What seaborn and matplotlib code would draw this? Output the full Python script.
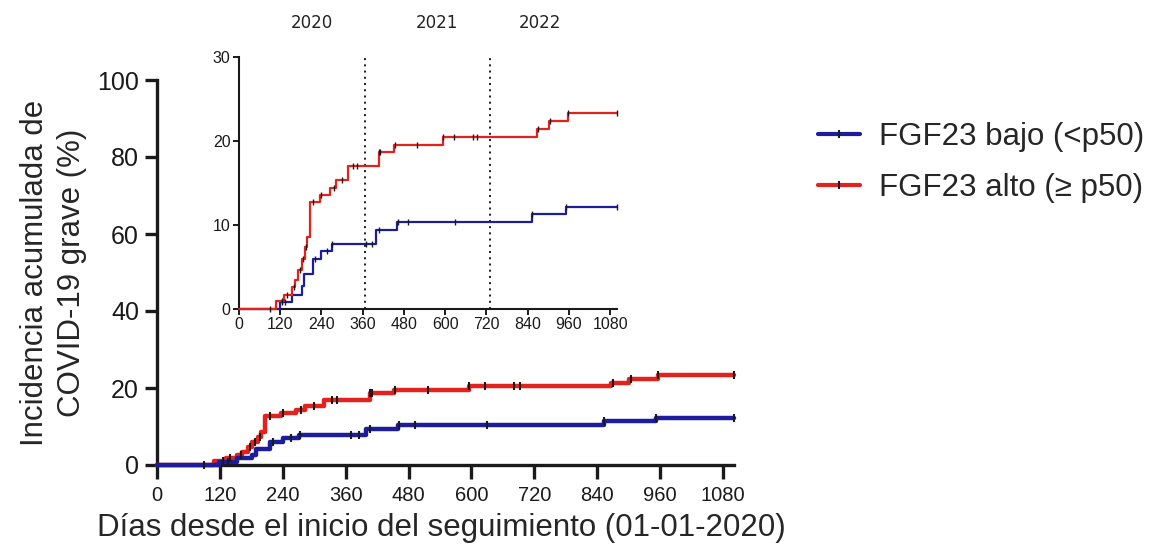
import numpy as np
import pandas as pd
import matplotlib
matplotlib.use("Agg")
import matplotlib.pyplot as plt
import seaborn as sns
from matplotlib.lines import Line2D
from matplotlib.transforms import blended_transform_factory

sns.set_theme(style="ticks")
plt.rcParams["font.family"] = ["Liberation Sans", "DejaVu Sans"]

# Kaplan-Meier style cumulative incidence (step changes), days vs %
grupo_bajo = "FGF23 bajo (<p50)"
grupo_alto = "FGF23 alto (≥ p50)"

bajo_dias = [0, 119, 153, 182, 189, 216, 240, 270, 399, 459, 852, 952, 1100]
bajo_inc = [0, 0.8, 1.7, 2.7, 4.2, 6.0, 6.9, 7.7, 9.4, 10.3, 11.3, 12.1, 12.1]

alto_dias = [0, 108, 132, 153, 163, 173, 182, 192, 199, 207, 236, 265, 282,
             318, 406, 452, 595, 867, 901, 956, 1100]
alto_inc = [0, 0.95, 1.7, 2.6, 3.45, 4.6, 6.0, 7.4, 8.6, 12.7, 13.6, 14.4, 15.4,
            17.0, 18.7, 19.5, 20.5, 21.4, 22.4, 23.3, 23.3]

# censored observations (days)
bajo_censura = [125, 135, 222, 255, 272, 370, 386, 406, 462, 493, 629, 852, 952, 1100]
alto_censura = [90, 125, 140, 160, 178, 187, 196, 215, 240, 275, 300, 333, 343,
                406, 410, 455, 517, 595, 626, 682, 692, 870, 905, 956, 1100]

anios = ["2020", "2021", "2022"]
cortes_anuales = [366, 731]

x_ticks = list(range(0, 1081, 120))
y_ticks_main = [0, 20, 40, 60, 80, 100]
y_ticks_inset = [0, 10, 20, 30]

colores = {grupo_bajo: "#1c1c9c", grupo_alto: "#e3221d"}

df = pd.concat([
    pd.DataFrame({"dias": bajo_dias, "incidencia": bajo_inc, "grupo": grupo_bajo}),
    pd.DataFrame({"dias": alto_dias, "incidencia": alto_inc, "grupo": grupo_alto}),
], ignore_index=True)


def valor_en(dias, inc, t):
    idx = np.searchsorted(dias, t, side="right") - 1
    return np.asarray(inc)[idx]


fig = plt.figure(figsize=(11.57, 5.54), dpi=100)
ax = fig.add_axes([157 / 1157, 1 - 465 / 554, 576.5 / 1157, 385 / 554])
ax_in = fig.add_axes([239 / 1157, 1 - 309 / 554, 378 / 1157, 252 / 554])
for a in (ax, ax_in):
    a.set_facecolor("none")

# ---- main panel
sns.lineplot(data=df, x="dias", y="incidencia", hue="grupo",
             hue_order=[grupo_alto, grupo_bajo], palette=colores,
             drawstyle="steps-post", estimator=None, sort=False,
             linewidth=3.2, legend=False, ax=ax, zorder=3, clip_on=False)
for dias, inc, cens in ((alto_dias, alto_inc, alto_censura),
                        (bajo_dias, bajo_inc, bajo_censura)):
    ax.plot(cens, valor_en(dias, inc, cens), linestyle="none", marker="|",
            color="k", ms=6, mew=1.5, zorder=4, clip_on=False)

ax.set_xlim(0, 1100)
ax.set_ylim(0, 100)
ax.set_xticks(x_ticks)
ax.set_yticks(y_ticks_main)
sns.despine(ax=ax)
for s in ("left", "bottom"):
    ax.spines[s].set_linewidth(2.4)
    ax.spines[s].set_color("k")
ax.tick_params(axis="y", length=9, width=2.4, labelsize=18, pad=4, colors="k")
ax.tick_params(axis="x", length=10, width=2.4, labelsize=14.5, pad=5, colors="k")
ax.set_xlabel("Días desde el inicio del seguimiento (01-01-2020)", fontsize=22.5)
ax.set_ylabel("Incidencia acumulada de\nCOVID-19 grave (%)", fontsize=22.5,
              linespacing=1.3)
ax.xaxis.set_label_coords(0.494, -0.125)
ax.yaxis.set_label_coords(-0.122, 0.5)

# ---- inset panel
sns.lineplot(data=df, x="dias", y="incidencia", hue="grupo",
             hue_order=[grupo_bajo, grupo_alto], palette=colores,
             drawstyle="steps-post", estimator=None, sort=False,
             linewidth=1.6, legend=False, ax=ax_in, zorder=3, clip_on=False)
for dias, inc, cens in ((alto_dias, alto_inc, alto_censura),
                        (bajo_dias, bajo_inc, bajo_censura)):
    ax_in.plot(cens, valor_en(dias, inc, cens), linestyle="none", marker="|",
               color="k", ms=4, mew=1.0, zorder=4, clip_on=False)
for c in cortes_anuales:
    ax_in.axvline(c, color="k", linestyle=(0, (1, 2.2)), linewidth=1.4, zorder=2)

ax_in.set_xlim(0, 1100)
ax_in.set_ylim(0, 30)
ax_in.set_xticks(x_ticks)
ax_in.set_yticks(y_ticks_inset)
ax_in.set_xlabel("")
ax_in.set_ylabel("")
sns.despine(ax=ax_in)
for s in ("left", "bottom"):
    ax_in.spines[s].set_linewidth(1.5)
    ax_in.spines[s].set_color("k")
ax_in.tick_params(length=4, width=1.4, labelsize=11.5, pad=2, colors="k")

trans = blended_transform_factory(ax_in.transData, ax_in.transAxes)
for anio, xpos in zip(anios, [212, 576, 876]):
    ax_in.text(xpos, 1.135, anio, transform=trans, ha="center", va="center",
               fontsize=12, family="DejaVu Sans", color="#222222")

# ---- legend
handles = [Line2D([0], [0], color=colores[g], lw=3, marker="|", mec="k",
                  mfc="k", ms=6, mew=1.5) for g in (grupo_bajo, grupo_alto)]
fig.legend(handles, [grupo_bajo, grupo_alto], loc="upper left",
           bbox_to_anchor=(818 / 1157, 1 - 122 / 554), frameon=False,
           fontsize=22.5, numpoints=1, handlelength=1.35, handletextpad=0.6,
           labelspacing=0.68, borderpad=0, borderaxespad=0)

fig.savefig("out.png", dpi=100, facecolor="white")
